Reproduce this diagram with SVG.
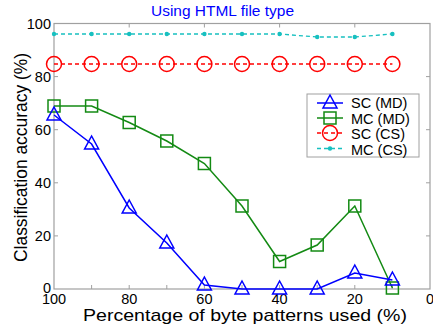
<svg xmlns="http://www.w3.org/2000/svg" width="433" height="329" viewBox="0 0 433 329">
  <defs>
    <style>
      text { font-family: "Liberation Sans", Arial, sans-serif; fill: #000; }
      .tick { font-size: 14.5px; }
      .frame { fill: none; stroke: #a0a0a0; stroke-width: 1.2; }
      .tk { stroke: #a0a0a0; stroke-width: 1; }
      .sc-md { fill: none; stroke: #0000ff; stroke-width: 1.5; }
      .mc-md { fill: none; stroke: #138a13; stroke-width: 1.5; }
      .sc-cs { fill: none; stroke: #ff0000; stroke-width: 1.5; stroke-dasharray: 4 3; }
      .mc-cs { fill: none; stroke: #17c0c0; stroke-width: 1.3; stroke-dasharray: 4 3; }
      .tri { fill: none; stroke: #0000ff; stroke-width: 1.5; }
      .sq { fill: none; stroke: #138a13; stroke-width: 1.5; }
      .circ { fill: none; stroke: #ff0000; stroke-width: 1.5; }
      .dot { fill: #17c0c0; }
      .leg { font-size: 14.5px; }
    </style>
    <path id="triM" d="M0,-8 L7,5 L-7,5 Z" class="tri"/>
    <rect id="sqM" x="-6" y="-6" width="12" height="12" class="sq"/>
    <circle id="circM" r="7.5" class="circ"/>
    <circle id="dotM" r="2.2" class="dot"/>
  </defs>

  <rect width="433" height="329" fill="#ffffff"/>

  <!-- title -->
  <text x="222.5" y="15.5" font-size="14" text-anchor="middle" textLength="143" lengthAdjust="spacingAndGlyphs" style="fill:#0000ff">Using HTML file type</text>

  <!-- axes frame and ticks -->
  <g id="axes">
    <rect x="54" y="23.5" width="376" height="265.5" class="frame"/>
    <path class="tk" d="M54,76.6h4M54,129.7h4M54,182.8h4M54,235.9h4M430,76.6h-4M430,129.7h-4M430,182.8h-4M430,235.9h-4M91.6,289v-4M129.2,289v-4M166.8,289v-4M204.4,289v-4M242,289v-4M279.6,289v-4M317.2,289v-4M354.8,289v-4M392.4,289v-4M129.2,23.5v4M204.4,23.5v4M279.6,23.5v4M354.8,23.5v4"/>
    <g class="tick" text-anchor="end">
      <text x="51" y="29">100</text>
      <text x="51" y="82">80</text>
      <text x="51" y="135">60</text>
      <text x="51" y="188">40</text>
      <text x="51" y="241">20</text>
      <text x="51" y="293">0</text>
    </g>
    <g class="tick" text-anchor="middle">
      <text x="54" y="304">100</text>
      <text x="129.2" y="304">80</text>
      <text x="204.4" y="304">60</text>
      <text x="279.6" y="304">40</text>
      <text x="354.8" y="304">20</text>
      <text x="430" y="304">0</text>
    </g>
    <text x="245" y="321" font-size="17" text-anchor="middle" textLength="324" lengthAdjust="spacingAndGlyphs">Percentage of byte patterns used (%)</text>
    <text transform="translate(26.5,157.5) rotate(-90)" font-size="17.5" text-anchor="middle" textLength="209" lengthAdjust="spacingAndGlyphs">Classification accuracy (%)</text>
  </g>

  <!-- data series -->
  <g id="series-mc-cs">
    <polyline class="mc-cs" points="54,34 91.6,34 129.2,34 166.8,34 204.4,34 242,34 279.6,34 317.2,37 354.8,37 392.4,34"/>
    <use href="#dotM" x="54" y="34"/><use href="#dotM" x="91.6" y="34"/><use href="#dotM" x="129.2" y="34"/>
    <use href="#dotM" x="166.8" y="34"/><use href="#dotM" x="204.4" y="34"/><use href="#dotM" x="242" y="34"/>
    <use href="#dotM" x="279.6" y="34"/><use href="#dotM" x="317.2" y="37"/><use href="#dotM" x="354.8" y="37"/>
    <use href="#dotM" x="392.4" y="34"/>
  </g>
  <g id="series-sc-cs">
    <polyline class="sc-cs" points="54,64 392.4,64"/>
    <use href="#circM" x="54" y="64"/><use href="#circM" x="91.6" y="64"/><use href="#circM" x="129.2" y="64"/>
    <use href="#circM" x="166.8" y="64"/><use href="#circM" x="204.4" y="64"/><use href="#circM" x="242" y="64"/>
    <use href="#circM" x="279.6" y="64"/><use href="#circM" x="317.2" y="64"/><use href="#circM" x="354.8" y="64"/>
    <use href="#circM" x="392.4" y="64"/>
  </g>
  <g id="series-mc-md">
    <polyline class="mc-md" points="54,106 91.6,106 129.2,122.5 166.8,141 204.4,163.5 242,206 279.6,261.5 317.2,245 354.8,206 392.4,288"/>
    <use href="#sqM" x="54" y="106"/><use href="#sqM" x="91.6" y="106"/><use href="#sqM" x="129.2" y="122.5"/>
    <use href="#sqM" x="166.8" y="141"/><use href="#sqM" x="204.4" y="163.5"/><use href="#sqM" x="242" y="206"/>
    <use href="#sqM" x="279.6" y="261.5"/><use href="#sqM" x="317.2" y="245"/><use href="#sqM" x="354.8" y="206"/>
    <use href="#sqM" x="392.4" y="288"/>
  </g>
  <g id="series-sc-md">
    <polyline class="sc-md" points="54,115 91.6,144 129.2,208 166.8,243 204.4,285 242,289 279.6,289 317.2,289 354.8,273 392.4,280"/>
    <use href="#triM" x="54" y="115"/><use href="#triM" x="91.6" y="144"/><use href="#triM" x="129.2" y="208"/>
    <use href="#triM" x="166.8" y="243"/><use href="#triM" x="204.4" y="285"/><use href="#triM" x="242" y="289"/>
    <use href="#triM" x="279.6" y="289"/><use href="#triM" x="317.2" y="289"/><use href="#triM" x="354.8" y="273"/>
    <use href="#triM" x="392.4" y="280"/>
  </g>

  <!-- legend -->
  <g id="legend">
    <rect x="307" y="94" width="112" height="63" fill="#ffffff" stroke="#a0a0a0" stroke-width="1"/>
    <line x1="317" y1="103" x2="343" y2="103" class="sc-md"/>
    <use href="#triM" x="330" y="103"/>
    <line x1="317" y1="118" x2="343" y2="118" class="mc-md"/>
    <use href="#sqM" x="330" y="118"/>
    <line x1="317" y1="133" x2="343" y2="133" class="sc-cs"/>
    <use href="#circM" x="330" y="133"/>
    <line x1="317" y1="148.5" x2="343" y2="148.5" class="mc-cs"/>
    <use href="#dotM" x="330" y="148.5"/>
    <g class="leg">
      <text x="351" y="108">SC (MD)</text>
      <text x="351" y="123.5">MC (MD)</text>
      <text x="351" y="139">SC (CS)</text>
      <text x="351" y="154.5">MC (CS)</text>
    </g>
  </g>
</svg>
